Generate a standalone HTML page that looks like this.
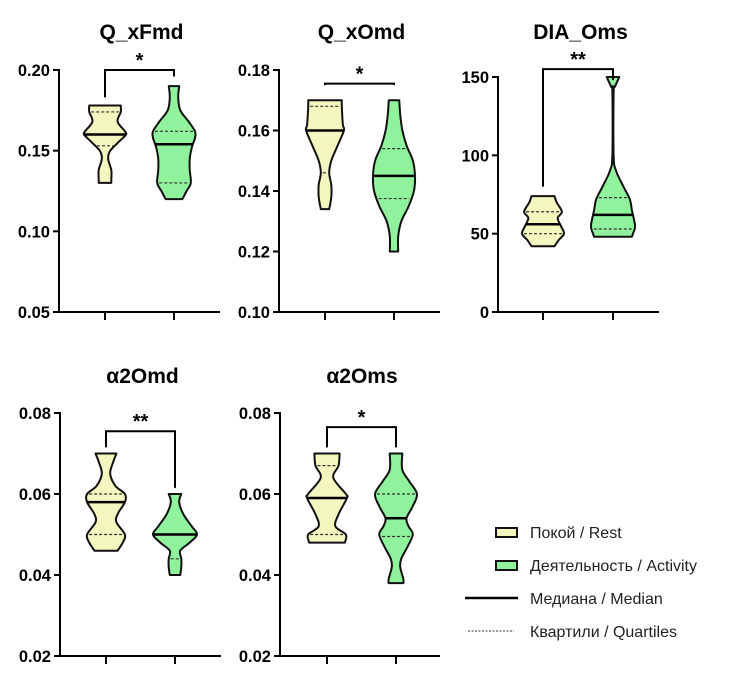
<!DOCTYPE html>
<html><head><meta charset="utf-8"><style>
html,body{margin:0;padding:0;background:#fff;}
svg{display:block;font-family:"Liberation Sans",Arial,sans-serif;}
</style></head><body>
<svg id="chart" width="734" height="700" viewBox="0 0 734 700"></svg>
<script>
// ---- data ----
const panelTitles = ["Q_xFmd","Q_xOmd","DIA_Oms","α2Omd","α2Oms"];
const tickLabels = [
  ["0.05","0.10","0.15","0.20"],
  ["0.10","0.12","0.14","0.16","0.18"],
  ["0","50","100","150"],
  ["0.02","0.04","0.06","0.08"],
  ["0.02","0.04","0.06","0.08"]
];
const axisMin = [0.05,0.10,0,0.02,0.02];
const axisMax = [0.20,0.18,150,0.08,0.08];
const significance = ["*","*","**","**","*"];
const groupNames = ["rest","activity"];
const medians = [[0.160,0.154],[0.160,0.145],[56,62],[0.058,0.050],[0.059,0.054]];
const q1s = [[0.153,0.130],[0.146,0.1375],[50,53],[0.050,0.044],[0.050,0.0495]];
const q3s = [[0.174,0.162],[0.168,0.154],[64,73],[0.060,0.050],[0.067,0.060]];
const restProfiles = [
  [[0.178,0.75],[0.174,0.75],[0.168,0.6],[0.162,0.95],[0.160,1.0],[0.156,0.7],[0.150,0.25],[0.145,0.15],[0.138,0.3],[0.132,0.3],[0.130,0.3]],
  [[0.170,0.8],[0.168,0.8],[0.162,0.85],[0.160,0.9],[0.155,0.6],[0.150,0.3],[0.146,0.2],[0.142,0.3],[0.138,0.3],[0.134,0.2]],
  [[74,0.55],[70,0.65],[64,0.9],[60,0.7],[55,0.85],[50,1.0],[46,0.75],[42,0.55]],
  [[0.070,0.5],[0.068,0.35],[0.065,0.2],[0.062,0.45],[0.060,0.9],[0.058,0.9],[0.055,0.55],[0.053,0.5],[0.050,0.9],[0.048,0.8],[0.046,0.55]],
  [[0.070,0.6],[0.067,0.55],[0.064,0.3],[0.060,0.9],[0.059,0.95],[0.055,0.55],[0.052,0.4],[0.050,0.9],[0.048,0.85]]
];
const activityProfiles = [
  [[0.190,0.25],[0.183,0.2],[0.175,0.3],[0.168,0.7],[0.162,1.0],[0.158,1.0],[0.152,0.85],[0.145,0.75],[0.138,0.75],[0.130,0.8],[0.125,0.6],[0.120,0.4]],
  [[0.170,0.25],[0.165,0.3],[0.160,0.4],[0.155,0.6],[0.150,0.9],[0.145,1.0],[0.140,0.95],[0.135,0.7],[0.130,0.35],[0.125,0.2],[0.120,0.2]],
  [[150,0.3],[144,0.1],[140,0.03],[100,0.03],[90,0.15],[80,0.5],[72,0.8],[65,0.9],[55,1.05],[50,0.95],[48,0.9]],
  [[0.060,0.3],[0.058,0.2],[0.055,0.4],[0.052,0.8],[0.050,1.05],[0.048,0.7],[0.046,0.25],[0.044,0.3],[0.042,0.3],[0.040,0.25]],
  [[0.070,0.3],[0.066,0.3],[0.063,0.65],[0.060,1.0],[0.057,0.8],[0.054,0.5],[0.052,0.6],[0.050,0.8],[0.047,0.55],[0.044,0.25],[0.042,0.2],[0.039,0.35],[0.038,0.35]]
];
const bracketEnds = [[0.183,0.196],[0.175,0.175],[80,148],[0.0715,0.0615],[0.0715,0.0715]];
const bracketTop = [0.20,0.1755,155,0.0755,0.0765];

// ---- layout ----
const layout = [
  {ax:59,top:70,bot:312,end:220,tx:[105,174],ty:32},
  {ax:279,top:70,bot:312,end:440,tx:[325,394],ty:32},
  {ax:498,top:77,bot:312,end:659,tx:[543,613],ty:32},
  {ax:60,top:413,bot:656,end:221,tx:[106,175],ty:376},
  {ax:280,top:413,bot:656,end:440,tx:[327,396],ty:376}
];
const fills = ["#f4f6bf","#90f29c"];
const HW = 21;
const NS = "http://www.w3.org/2000/svg";
const svg = document.getElementById("chart");
function mk(tag, attrs, parent){
  const e = document.createElementNS(NS, tag);
  for (const k in attrs) e.setAttribute(k, attrs[k]);
  (parent||svg).appendChild(e);
  return e;
}
function widthAt(prof, v){
  for (let i=0;i<prof.length-1;i++){
    const a=prof[i], b=prof[i+1];
    if ((v<=a[0]&&v>=b[0])){
      const t=(a[0]-v)/(a[0]-b[0]||1);
      return a[1]+(b[1]-a[1])*t;
    }
  }
  return prof[prof.length-1][1];
}
// smooth open curve through points (catmull-rom)
function smooth(pts){
  let d = "";
  for (let i=0;i<pts.length-1;i++){
    const p0=pts[Math.max(i-1,0)], p1=pts[i], p2=pts[i+1], p3=pts[Math.min(i+2,pts.length-1)];
    const c1x=p1[0]+(p2[0]-p0[0])/6, c1y=p1[1]+(p2[1]-p0[1])/6;
    const c2x=p2[0]-(p3[0]-p1[0])/6, c2y=p2[1]-(p3[1]-p1[1])/6;
    d += " C"+c1x+","+c1y+" "+c2x+","+c2y+" "+p2[0]+","+p2[1];
  }
  return d;
}
panelTitles.forEach((title,p)=>{
  const L = layout[p];
  const y = v => L.bot - (v-axisMin[p])/(axisMax[p]-axisMin[p])*(L.bot-L.top);
  const g = mk("g",{});
  
  
  const t = mk("text",{x:(L.ax+L.end)/2+2,y:L.ty+7,"text-anchor":"middle","font-size":"21","font-weight":"bold",fill:"#000"},g);
  t.textContent = title;
  
  
  const ya = mk("line",{x1:L.ax,y1:L.top-1,x2:L.ax,y2:L.bot,stroke:"#000","stroke-width":2},g);
  
  
  const xa = mk("line",{x1:L.ax-1,y1:L.bot,x2:L.end,y2:L.bot,stroke:"#000","stroke-width":2},g);
  
  
  L.tx.forEach(tx=>{
    const tk = mk("line",{x1:tx,y1:L.bot,x2:tx,y2:L.bot+8,stroke:"#000","stroke-width":2},g);
    
    
  });
  tickLabels[p].forEach(lbl=>{
    const v = parseFloat(lbl);
    mk("line",{x1:L.ax-6,y1:y(v),x2:L.ax,y2:y(v),stroke:"#000","stroke-width":2},g);
    const tl = mk("text",{x:L.ax-9,y:y(v)+6,"text-anchor":"end","font-size":"16.5","font-weight":"bold",fill:"#000"},g);
    tl.textContent = lbl;
    
    
  });
  [restProfiles[p],activityProfiles[p]].forEach((prof,gi)=>{
    const cx = L.tx[gi];
    const right = prof.map(pt=>[cx+pt[1]*HW, y(pt[0])]);
    const left = prof.map(pt=>[cx-pt[1]*HW, y(pt[0])]).reverse();
    let d = "M"+left[left.length-1][0]+","+left[left.length-1][1]+" L"+right[0][0]+","+right[0][1];
    d += smooth(right);
    d += " L"+left[0][0]+","+left[0][1];
    d += smooth(left);
    d += "Z";
    const vp = mk("path",{d:d,fill:fills[gi],stroke:"#111","stroke-width":2,"stroke-linejoin":"round"},g);
    
    
    [q1s[p][gi],q3s[p][gi]].forEach(q=>{
      const w = widthAt(prof,q)*HW-2;
      const ql = mk("line",{x1:cx-w,y1:y(q),x2:cx+w,y2:y(q),stroke:"#333","stroke-width":1.2,"stroke-dasharray":"3,2"},g);
      
      
    });
    const m = medians[p][gi];
    const mw = widthAt(prof,m)*HW;
    const ml = mk("line",{x1:cx-mw,y1:y(m),x2:cx+mw,y2:y(m),stroke:"#000","stroke-width":2.5},g);
    
    
  });
  const bt = y(bracketTop[p]);
  const br = mk("path",{d:"M"+L.tx[0]+","+y(bracketEnds[p][0])+" L"+L.tx[0]+","+bt+" L"+L.tx[1]+","+bt+" L"+L.tx[1]+","+y(bracketEnds[p][1]),fill:"none",stroke:"#000","stroke-width":2},g);
  
  
  const st = mk("text",{x:(L.tx[0]+L.tx[1])/2,y:bt-3,"text-anchor":"middle","font-size":"20","font-weight":"bold",fill:"#000"},g);
  st.textContent = significance[p];
  
  
});
const lg = mk("g",{});


const legendLabels = ["Покой / Rest","Деятельность / Activity","Медиана / Median","Квартили / Quartiles"];
const legendY = [532,565,598,631];
legendLabels.forEach((lbl,i)=>{
  if (i<2){
    const r = mk("rect",{x:496,y:legendY[i]-4,width:21,height:9,fill:fills[i],stroke:"#111","stroke-width":2},lg);
    
    
  } else if (i===2){
    mk("line",{x1:465,y1:legendY[i],x2:518,y2:legendY[i],stroke:"#000","stroke-width":2.5},lg);
  } else {
    mk("line",{x1:468,y1:legendY[i],x2:514,y2:legendY[i],stroke:"#333","stroke-width":1,"stroke-dasharray":"2,1.5"},lg);
  }
  const tx = mk("text",{x:530,y:legendY[i]+6,"font-size":"16",fill:"#222"},lg);
  tx.textContent = lbl;
  
  
});
</script>
</body></html>
